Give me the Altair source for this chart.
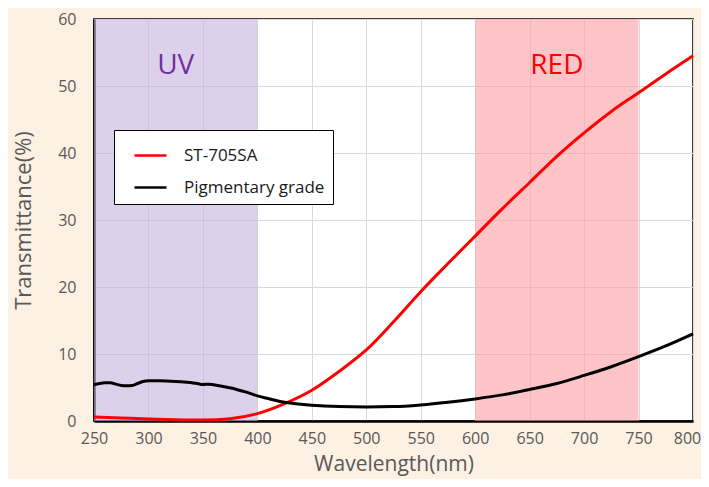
import altair as alt
import pandas as pd

FONT = "Open Sans"

# ---- data ----
red_wl = [250, 275, 300, 325, 350, 375, 400, 425, 450, 475, 500, 525, 550,
          575, 600, 625, 650, 675, 700, 725, 750, 775, 800]
red_t = [0.6, 0.45, 0.3, 0.2, 0.15, 0.35, 1.1, 2.6, 4.6, 7.4, 10.6, 14.8, 19.3,
         23.5, 27.6, 31.7, 35.6, 39.5, 43.0, 46.2, 49.0, 51.8, 54.5]

blk_wl = [250, 255, 260, 265, 270, 275, 280, 285, 290, 295, 300, 310, 320, 330,
          340, 345, 350, 355, 360, 370, 380, 390, 400, 410, 420, 430, 440, 450,
          475, 500, 525, 550, 575, 600, 625, 650, 675, 700, 725, 750, 775, 800]
blk_t = [5.4, 5.6, 5.7, 5.7, 5.5, 5.3, 5.25, 5.3, 5.6, 5.9, 6.0, 6.0, 5.95, 5.85,
         5.7, 5.6, 5.45, 5.5, 5.4, 5.1, 4.75, 4.3, 3.75, 3.35, 2.95, 2.7, 2.5, 2.35,
         2.15, 2.1, 2.15, 2.4, 2.8, 3.3, 3.9, 4.7, 5.6, 6.8, 8.1, 9.6, 11.2, 13.0]

series_names = ["ST-705SA", "Pigmentary grade"]
series_colors = ["#ff0000", "#000000"]

region_names = ["UV", "RED"]
region_start = [250, 600]
region_end = [400, 750]
region_fill = ["#c6b1dc", "#ff9da3"]
region_text_color = ["#7030a0", "#ff0000"]
region_label_y = [53, 53]

x_ticks = list(range(250, 801, 50))
y_ticks = list(range(0, 61, 10))

# ---- tables ----
lines = pd.concat([
    pd.DataFrame({"wl": red_wl, "t": red_t, "series": series_names[0]}),
    pd.DataFrame({"wl": blk_wl, "t": blk_t, "series": series_names[1]}),
])
regions = pd.DataFrame({
    "name": region_names, "x1": region_start, "x2": region_end,
    "fill": region_fill, "tcolor": region_text_color,
    "xc": [(a + b) / 2 for a, b in zip(region_start, region_end)],
    "yl": region_label_y,
})

xscale = alt.Scale(domain=[250, 800], nice=False, zero=False)
yscale = alt.Scale(domain=[0, 60], nice=False)

xaxis = alt.Axis(values=x_ticks, title="Wavelength(nm)", grid=True,
                 gridColor="#d9d9d9", gridWidth=1, ticks=False,
                 domainColor="#000000", domainWidth=2.5, labelFlush=False,
                 labelOffset={"condition": {"test": "datum.value == 800", "value": -6},
                              "value": 0},
                 labelFont=FONT, labelFontSize=16, labelColor="#595959",
                 labelPadding=9, titleFont=FONT, titleFontSize=21,
                 titleFontWeight="normal", titleColor="#595959", titlePadding=7)
yaxis = alt.Axis(values=y_ticks, title="Transmittance(%)", grid=True,
                 gridColor="#d9d9d9", gridWidth=1, ticks=False,
                 domainColor="#000000", domainWidth=2.5, labelFlush=False,
                 labelFont=FONT, labelFontSize=16, labelColor="#595959",
                 labelPadding=18, titleFont=FONT, titleFontSize=22,
                 titleFontWeight="normal", titleColor="#595959", titlePadding=22)

bands = alt.Chart(regions).mark_rect(opacity=0.6).encode(
    x=alt.X("x1:Q", scale=xscale, axis=xaxis),
    x2="x2:Q",
    y=alt.value(0),
    y2=alt.value(402),
    fill=alt.Fill("fill:N", scale=None),
)

band_text = alt.Chart(regions).mark_text(font=FONT, fontSize=28, baseline="middle").encode(
    x=alt.X("xc:Q", scale=xscale),
    y=alt.Y("yl:Q", scale=yscale, axis=yaxis),
    text="name:N",
    color=alt.Color("tcolor:N", scale=None),
)

curve = alt.Chart(lines).mark_line(strokeWidth=3, interpolate="monotone").encode(
    x=alt.X("wl:Q", scale=xscale),
    y=alt.Y("t:Q", scale=yscale),
    color=alt.Color("series:N",
                    scale=alt.Scale(domain=series_names, range=series_colors),
                    sort=series_names,
                    legend=alt.Legend(
                        title=None, orient="none", legendX=20, legendY=111,
                        fillColor="#ffffff", strokeColor="#000000",
                        padding=8, symbolOffset=11, symbolType="stroke",
                        symbolSize=1024, symbolStrokeWidth=2.5,
                        labelFont=FONT, labelFontSize=17, labelColor="#1a1a1a",
                        labelOffset=16, rowPadding=6)),
)

chart = alt.layer(bands, band_text, curve).properties(
    width=599, height=402,
    padding={"left": 86, "top": 11, "right": 8, "bottom": 58},
    autosize=alt.AutoSizeParams(type="none"),
    background="#fcf1e3",
).configure_view(stroke="#404040", strokeWidth=2, fill="#ffffff")

chart.save("out.html", embed_options={"renderer": "svg", "actions": False})
